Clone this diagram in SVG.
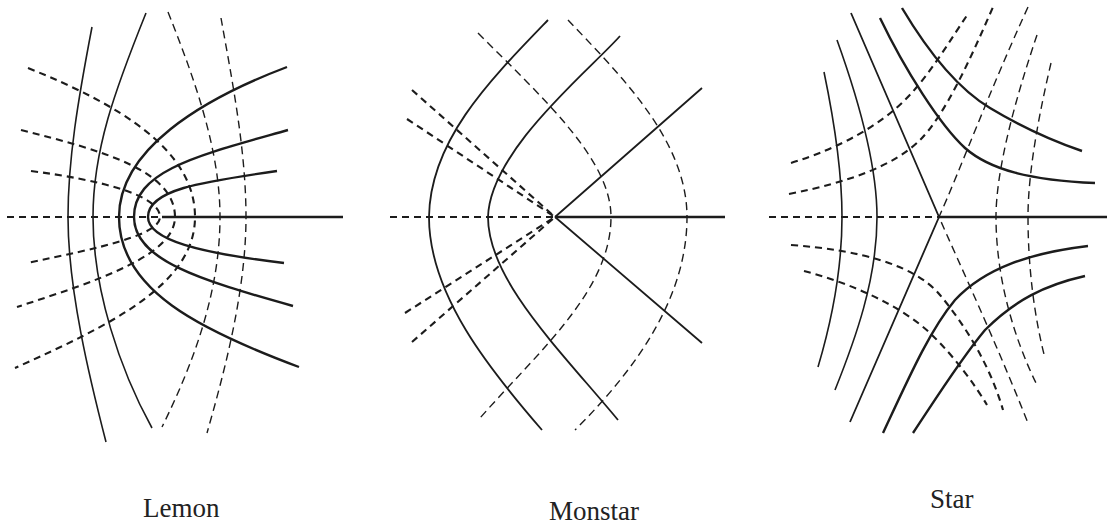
<svg xmlns="http://www.w3.org/2000/svg" width="1107" height="524" viewBox="0 0 1107 524">
<style>
path{fill:none;stroke:#1c1c1c;stroke-linecap:butt}
.thick{stroke-width:2.4}
.mid{stroke-width:1.8}
.thin{stroke-width:1.6}
.dk{stroke-width:2.1;stroke-dasharray:7 5}
.dt{stroke-width:1.4;stroke-dasharray:8 5}
text{font-family:"Liberation Serif","Times New Roman",serif;font-size:27px;fill:#222}
</style>
<rect width="1107" height="524" fill="#fff"/>
<g id="lemon">
<path class="thick" d="M162,217 H343"/>
<path class="thick" d="M277,171 C200,182 148,190 148,217 C148,240 200,253 284,263"/>
<path class="thick" d="M288,130 C200,155 134,170 134,217 C134,260 200,280 293,306"/>
<path class="thick" d="M287,67 C200,100 119,150 119,217 C119,290 200,330 299,367"/>
<path class="thin" d="M92,27 C78,100 68,160 68,217 C68,290 90,380 106,442"/>
<path class="thin" d="M146,13 C115,90 93,150 93,217 C93,290 120,370 152,428"/>
<path class="dk" d="M7,217 H162"/>
<path class="dk" d="M28,68 C120,105 195,150 195,217 C195,285 110,325 15,368"/>
<path class="dk" d="M21,130 C100,150 175,170 175,217 C175,255 100,280 17,307"/>
<path class="dk" d="M31,171 C100,180 160,195 160,217 C160,235 100,248 27,263"/>
<path class="dt" d="M168,12 C195,80 220,150 220,217 C220,290 195,360 162,427"/>
<path class="dt" d="M221,18 C232,80 246,150 246,217 C246,290 225,370 207,433"/>
</g>
<g id="monstar">
<path class="thick" d="M555,217 H725"/>
<path class="mid" d="M555,217 L702,88 M555,217 L702,343"/>
<path class="mid" d="M548,20 C490,80 430,140 429,217 C429,295 490,370 542,430"/>
<path class="mid" d="M620,36 C590,70 490,150 488,217 C488,280 560,350 618,420"/>
<path class="dk" d="M390,217 H555"/>
<path class="dk" d="M412,90 L555,217 M407,119 L555,217 M405,313 L555,217 M412,342 L555,217"/>
<path class="dt" d="M478,33 C545,100 611,160 611,217 C611,290 540,350 480,418"/>
<path class="dt" d="M568,20 C620,75 687,140 687,217 C687,295 640,365 575,430"/>
</g>
<g id="star">
<path class="thick" d="M939,217 H1107"/>
<path class="mid" d="M851,13 L939,217 L850,422"/>
<path class="thick" d="M902,8 C930,55 960,90 990,108 C1020,126 1050,140 1082,151"/>
<path class="thick" d="M880,18 C905,70 940,125 965,148 C990,170 1030,180 1095,183"/>
<path class="thick" d="M883,433 C910,375 930,330 955,300 C985,268 1030,253 1088,246"/>
<path class="thick" d="M913,433 C935,400 960,360 985,330 C1015,300 1045,285 1085,276"/>
<path class="thin" d="M824,72 C834,120 842,170 842,217 C842,270 832,320 818,367"/>
<path class="thin" d="M837,40 C855,90 877,160 877,217 C877,280 855,340 835,390"/>
<path class="dk" d="M769,217 H939"/>
<path class="dk" d="M791,163 C840,148 880,125 905,100 C930,75 950,40 968,14"/>
<path class="dk" d="M789,194 C850,182 895,165 920,140 C945,115 970,60 993,7"/>
<path class="dk" d="M791,245 C860,250 915,265 940,295 C965,325 990,365 1003,410"/>
<path class="dk" d="M804,271 C850,283 900,305 930,333 C955,357 975,385 987,405"/>
<path class="dt" d="M1028,7 C990,90 960,170 939,217 C960,265 995,340 1028,423"/>
<path class="dt" d="M1037,35 C1015,100 996,170 996,217 C996,280 1015,340 1036,383"/>
<path class="dt" d="M1051,63 C1040,110 1028,170 1028,217 C1028,270 1035,320 1045,358"/>
</g>
<g id="labels">
<text x="143" y="517">Lemon</text>
<text x="549" y="520">Monstar</text>
<text x="930" y="508">Star</text>
</g>
</svg>
